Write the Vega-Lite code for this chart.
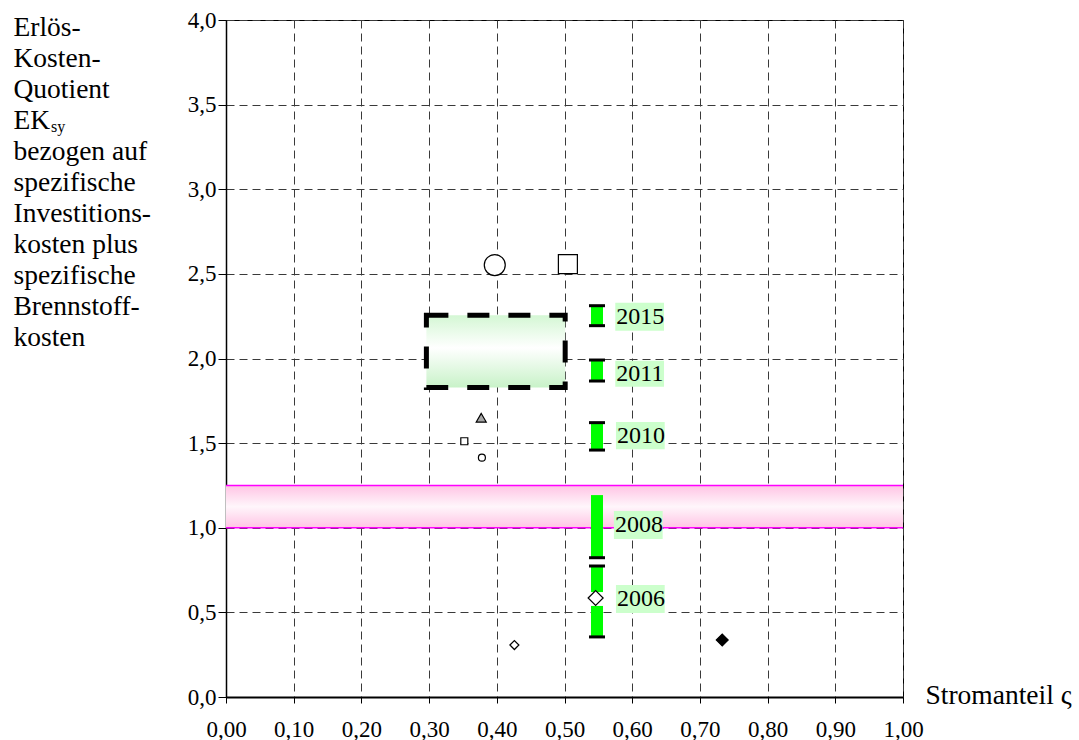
{
  "$schema": "https://vega.github.io/schema/vega-lite/v6.json",
  "width": 677,
  "height": 677,
  "autosize": {"type": "none"},
  "padding": {"left": 226, "top": 20, "right": 176, "bottom": 43},
  "background": "white",
  "title": {
    "text": "sy",
    "anchor": "start",
    "frame": "group",
    "orient": "top",
    "font": "Liberation Serif, Times New Roman, serif",
    "fontSize": 16,
    "fontWeight": "normal",
    "color": "black",
    "baseline": "alphabetic",
    "offset": 0,
    "dx": -175,
    "dy": 139
  },
  "config": {
    "font": "Liberation Serif, Times New Roman, serif",
    "view": {"stroke": "black", "strokeWidth": 1},
    "axis": {
      "labelFont": "Liberation Serif, Times New Roman, serif",
      "titleFont": "Liberation Serif, Times New Roman, serif",
      "labelColor": "black",
      "titleColor": "black",
      "labelFontSize": 23,
      "titleFontSize": 27.5,
      "titleFontWeight": "normal",
      "grid": true,
      "gridColor": "#3a3a3a",
      "gridDash": [8, 5],
      "gridWidth": 1,
      "tickColor": "black",
      "domainColor": "black",
      "labelFlush": false,
      "labelOverlap": false
    }
  },
  "datasets": {
    "band": [{"x": 0, "x2": 1, "y": 1.0, "y2": 1.25}],
    "bandlines": [{"y": 1.0}, {"y": 1.25}],
    "box": [{"x": 0.296, "x2": 0.501, "y": 1.828, "y2": 2.255}],
    "bars": [
      {"year": "2015", "x": 0.548, "y": 2.194, "y2": 2.312},
      {"year": "2011", "x": 0.548, "y": 1.867, "y2": 1.991},
      {"year": "2010", "x": 0.548, "y": 1.459, "y2": 1.621},
      {"year": "2008", "x": 0.548, "y": 0.823, "y2": 1.193},
      {"year": "2006", "x": 0.548, "y": 0.62, "y2": 0.774},
      {"year": "2006", "x": 0.548, "y": 0.355, "y2": 0.538}
    ],
    "caps": [
      {"year": "2015", "x": 0.548, "y": 2.312},
      {"year": "2015", "x": 0.548, "y": 2.194},
      {"year": "2011", "x": 0.548, "y": 1.991},
      {"year": "2011", "x": 0.548, "y": 1.867},
      {"year": "2010", "x": 0.548, "y": 1.621},
      {"year": "2010", "x": 0.548, "y": 1.459},
      {"year": "2008", "x": 0.548, "y": 0.823},
      {"year": "2006", "x": 0.548, "y": 0.774},
      {"year": "2006", "x": 0.548, "y": 0.355}
    ],
    "labelboxes": [
      {"year": "2015", "x": 0.575, "x2": 0.647, "y": 2.33, "y2": 2.164},
      {"year": "2011", "x": 0.575, "x2": 0.647, "y": 1.987, "y2": 1.833},
      {"year": "2010", "x": 0.576, "x2": 0.648, "y": 1.625, "y2": 1.464},
      {"year": "2008", "x": 0.573, "x2": 0.645, "y": 1.099, "y2": 0.934},
      {"year": "2006", "x": 0.576, "x2": 0.648, "y": 0.662, "y2": 0.496}
    ],
    "labels": [
      {"year": "2015", "x": 0.575, "y": 2.247},
      {"year": "2011", "x": 0.575, "y": 1.91},
      {"year": "2010", "x": 0.576, "y": 1.544},
      {"year": "2008", "x": 0.573, "y": 1.016},
      {"year": "2006", "x": 0.576, "y": 0.579}
    ],
    "points": [
      {"id": "A", "x": 0.397, "y": 2.552},
      {"id": "B", "x": 0.505, "y": 2.558},
      {"id": "C", "x": 0.377, "y": 1.65},
      {"id": "D", "x": 0.352, "y": 1.511},
      {"id": "E", "x": 0.378, "y": 1.414},
      {"id": "F", "x": 0.426, "y": 0.307},
      {"id": "G", "x": 0.733, "y": 0.337},
      {"id": "H", "x": 0.546, "y": 0.585}
    ]
  },
  "layer": [
    {
      "data": {"name": "band"},
      "mark": {
        "type": "rect",
        "fill": {
          "gradient": "linear",
          "x1": 0, "y1": 0, "x2": 0, "y2": 1,
          "stops": [
            {"offset": 0, "color": "#ffc4e4"},
            {"offset": 0.5, "color": "#fff6fb"},
            {"offset": 1, "color": "#ffc4e4"}
          ]
        }
      },
      "encoding": {
        "x": {
          "field": "x",
          "type": "quantitative",
          "scale": {"domain": [0, 1], "nice": false, "zero": false},
          "axis": {
            "values": [0, 0.1, 0.2, 0.3, 0.4, 0.5, 0.6, 0.7, 0.8, 0.9, 1],
            "labelExpr": "replace(format(datum.value, '.2f'), '.', ',')",
            "labelFont": "Liberation Serif, Times New Roman, serif",
            "labelFontSize": 23,
            "title": "Stromanteil ς",
            "titleFont": "Liberation Serif, Times New Roman, serif",
            "titleFontSize": 27.5,
            "titleFontWeight": "normal",
            "titleAngle": 0,
            "titleAlign": "left",
            "titleBaseline": "alphabetic",
            "titleX": 699,
            "titleY": 6,
            "tickSize": 6,
            "labelPadding": 15,
            "domainWidth": 2
          }
        },
        "x2": {"field": "x2"},
        "y": {
          "field": "y",
          "type": "quantitative",
          "scale": {"domain": [0, 4], "nice": false, "zero": false},
          "axis": {
            "values": [0, 0.5, 1, 1.5, 2, 2.5, 3, 3.5, 4],
            "labelExpr": "replace(format(datum.value, '.1f'), '.', ',')",
            "labelFont": "Liberation Serif, Times New Roman, serif",
            "labelFontSize": 23,
            "title": ["Erlös-", "Kosten-", "Quotient", "EK", "bezogen auf", "spezifische", "Investitions-", "kosten plus", "spezifische", "Brennstoff-", "kosten"],
            "titleFont": "Liberation Serif, Times New Roman, serif",
            "titleFontSize": 27.5,
            "titleFontWeight": "normal",
            "titleAngle": 0,
            "titleAlign": "left",
            "titleBaseline": "alphabetic",
            "titleX": -213,
            "titleY": 15,
            "titleLineHeight": 31,
            "tickSize": 8,
            "labelPadding": 2,
            "domainWidth": 1.5
          }
        },
        "y2": {"field": "y2"}
      }
    },
    {
      "data": {"name": "bandlines"},
      "mark": {"type": "rule", "color": "#ff00ff", "strokeWidth": 1.5},
      "encoding": {"y": {"field": "y", "type": "quantitative"}}
    },
    {
      "data": {"name": "box"},
      "mark": {
        "type": "rect",
        "fill": {
          "gradient": "linear",
          "x1": 0, "y1": 0, "x2": 0, "y2": 1,
          "stops": [
            {"offset": 0, "color": "#d4f7d4"},
            {"offset": 0.45, "color": "#ffffff"},
            {"offset": 1, "color": "#c8f2c8"}
          ]
        },
        "stroke": "black",
        "strokeWidth": 5,
        "strokeDash": [22, 19]
      },
      "encoding": {
        "x": {"field": "x", "type": "quantitative"},
        "x2": {"field": "x2"},
        "y": {"field": "y", "type": "quantitative"},
        "y2": {"field": "y2"}
      }
    },
    {
      "data": {"name": "bars"},
      "mark": {"type": "rule", "color": "#00ff00", "strokeWidth": 12, "strokeCap": "butt"},
      "encoding": {
        "x": {"field": "x", "type": "quantitative"},
        "y": {"field": "y", "type": "quantitative"},
        "y2": {"field": "y2"}
      }
    },
    {
      "data": {"name": "caps"},
      "mark": {"type": "tick", "orient": "horizontal", "color": "black", "thickness": 3, "size": 16, "opacity": 1},
      "encoding": {
        "x": {"field": "x", "type": "quantitative"},
        "y": {"field": "y", "type": "quantitative"}
      }
    },
    {
      "data": {"name": "labelboxes"},
      "mark": {"type": "rect", "fill": "#ccffcc"},
      "encoding": {
        "x": {"field": "x", "type": "quantitative"},
        "x2": {"field": "x2"},
        "y": {"field": "y", "type": "quantitative"},
        "y2": {"field": "y2"}
      }
    },
    {
      "data": {"name": "labels"},
      "mark": {"type": "text", "align": "left", "baseline": "middle", "dx": 1, "font": "Liberation Serif, Times New Roman, serif", "fontSize": 24, "color": "black"},
      "encoding": {
        "x": {"field": "x", "type": "quantitative"},
        "y": {"field": "y", "type": "quantitative"},
        "text": {"field": "year"}
      }
    },
    {
      "data": {"name": "points"},
      "mark": {"type": "point", "filled": true, "stroke": "black", "strokeWidth": 1.2, "opacity": 1},
      "encoding": {
        "x": {"field": "x", "type": "quantitative"},
        "y": {"field": "y", "type": "quantitative"},
        "shape": {
          "field": "id", "type": "nominal", "legend": null,
          "scale": {"domain": ["A", "B", "C", "D", "E", "F", "G", "H"], "range": ["circle", "square", "triangle-up", "square", "circle", "diamond", "diamond", "diamond"]}
        },
        "size": {
          "field": "id", "type": "nominal", "legend": null,
          "scale": {"type": "ordinal", "domain": ["A", "B", "C", "D", "E", "F", "G", "H"], "range": [441, 361, 100, 49, 49, 81, 140, 225]}
        },
        "fill": {
          "field": "id", "type": "nominal", "legend": null,
          "scale": {"domain": ["A", "B", "C", "D", "E", "F", "G", "H"], "range": ["white", "white", "#a6a6a6", "white", "white", "white", "black", "white"]}
        }
      }
    }
  ]
}
